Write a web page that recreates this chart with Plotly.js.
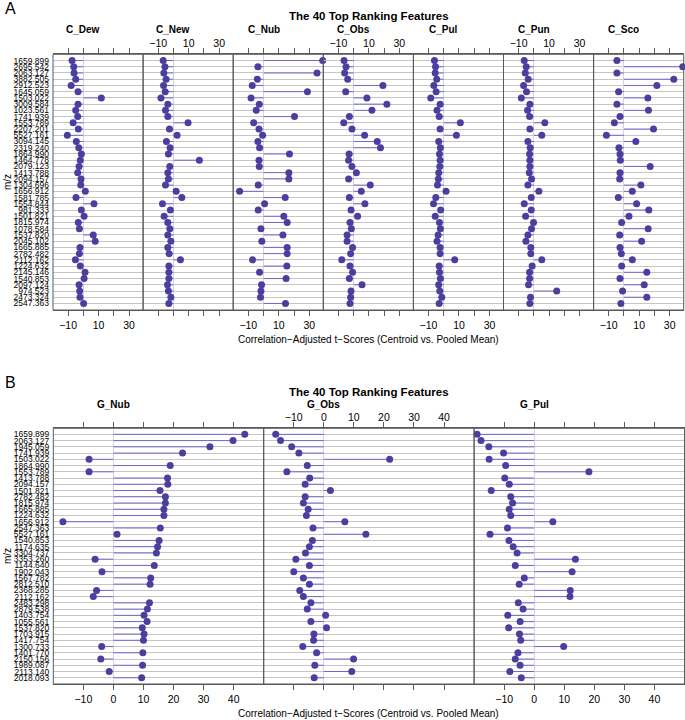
<!DOCTYPE html>
<html><head><meta charset="utf-8">
<script src="https://cdn.plot.ly/plotly-3.0.1.min.js"></script>
<style>html,body{margin:0;padding:0;background:#fff}#chart{width:685px;height:720px}</style>
</head><body><div id="chart"></div>
<script>
// ---------- Panel A data ----------
const mzA = ['1659.899','2695.542','2063.127','3882.505','2912.523','1645.059','1503.022','3009.584','1023.561','1741.939',
  '1553.789','2207.201','5527.161','3094.145','2319.240','1864.990','1464.778','2079.123','1413.788','2094.157',
  '1304.696','1656.912','1581.785','1554.844','981.333','1501.821','1815.974','1078.584','1537.820','2045.102',
  '1665.885','2782.482','2112.162','1224.632','2145.146','1540.853','2097.124','974.523','2473.324','2547.363'];
const panelsA = ['C_Dew','C_New','C_Nub','C_Obs','C_Pul','C_Pun','C_Sco'];
const C_Dew = [-7.4,-6.3,-6.1,-5,-8,-3.5,11.8,-3.5,-5,-3.7,-6.7,-3.3,-10.5,-4.6,-3,-1.3,-2,-2.8,-3.7,-1.5,-1.7,1.3,-4.8,7,-1.3,0.5,-3.3,-2.6,6.5,7.8,-2.2,-2.6,-5.2,-2,1.1,0.5,-2.8,-2.4,-2.2,0.2];
const C_New = [-6.7,-5.6,-6.3,-4.8,-6.5,-5.4,-8.2,-3.7,-5.2,-3.7,9.6,-2.6,2.4,-4.6,-2.2,-3.3,17,-2.4,-3.7,-3.3,-5.2,1.8,5.5,-7.2,-2,-6.1,-3.7,-2.4,-3.7,-1.7,-3.7,-2.8,4.6,-3,-3,-3,-3.9,-3.3,-1.7,-3];
const C_Nub = [38.8,-3.7,35.1,-4.1,-7.4,28.8,-8.2,-2.8,-4.8,20.3,-6.5,-3,-0.6,-3.7,-2.6,17,-3,-2.8,16.6,16.6,-3.5,-15.7,14.2,0.7,-3.5,13.3,15.5,-1.7,12.7,-1.1,15.5,15.5,-7.2,15.3,-2.6,14.8,-1.3,-1.7,-2,14.4];
const C_Obs = [-6.3,-5,-5.9,-3.9,19.2,-5.2,8.7,21.8,12,-2.8,-6.5,-1.1,7.2,15.5,17.6,-3,-3.3,-1.1,1.8,-3.3,10.9,5,-2.8,7.4,-1.7,2.6,-2.4,-1.5,-4.3,-4.3,-0.7,-2,-7.8,-2.4,-0.7,-2.8,5.5,-1.7,-2,-2.4];
const C_Pul = [-6.1,-5.4,-5.6,-4.6,-6.5,-5,-8.5,-2.4,-4.4,-3,10.9,-2.4,8.3,-3.3,-2.2,-2.8,-2.4,-2.6,-3.3,-3.5,-4.1,1.5,-5.2,-6.7,-2,-5.6,-2.8,-2.2,-3.7,-4.4,-2.4,-2.4,7.2,-3,-2.8,-2.2,-3.3,-2.6,-1.3,-3];
const C_Pun = [-6.3,-5,-5.6,-3.7,-6.7,-4.8,-8.2,-2.6,-4.1,-2.8,7.2,-2.6,5.2,-3.9,-2.4,-2.8,-2.6,-2.6,-3,-1.5,-3.9,3.3,-1.7,-6.3,-1.7,-5.4,-0.2,-1.5,-3.9,-5.2,-2,-2,5.2,-1.1,-2.8,-2.8,-3.5,15,-2.2,-2.6];
const C_Sco = [-4.6,38.6,-4.6,32.7,21.6,-3.5,15.7,-4.6,16.1,-2.6,-6.3,19.4,-11.5,7.8,-3.3,-2.6,-2.4,17.2,-2.6,-2.8,11.1,5.5,-3.7,8.3,16.3,3.3,-1.5,15.9,-2.8,11.6,-2.6,-1.7,5.5,-1.5,15,-2.6,13.3,-0.9,15,-2];
const valuesA = [C_Dew,C_New,C_Nub,C_Obs,C_Pul,C_Pun,C_Sco];
const tickValsA = [-10,0,10,20,30];
const tickTextA = ['\u221210','','10','','30'];

// ---------- Panel B data ----------
const mzB = ['1659.899','2063.127','1945.059','1741.939','1503.022','1864.990','1553.789','1413.788','2094.157','1501.821',
  '2782.482','1815.974','1665.885','1224.632','1656.912','2547.363','5527.161','1540.853','1174.635','3304.737',
  '3353.260','1144.640','1902.043','1567.782','2812.510','2368.285','2112.162','2483.298','2879.538','1403.754',
  '1055.561','1537.820','1703.915','1417.754','1300.733','1401.770','2150.156','1989.087','2113.140','2018.093'];
const panelsB = ['G_Nub','G_Obs','G_Pul'];
const G_Nub = [43.7,39.8,32.1,23,-8.1,18.9,-8.1,18,18.1,15.5,17.3,17.3,16.8,16.8,-16.8,15.6,1.2,15.2,14.7,14.3,-6.1,13.6,-3.8,12.4,12.2,-5.6,-6.7,12,11.3,10.2,11.2,9.6,10.2,10,-3.9,9.8,-4.2,9.7,-1.4,9.4];
const G_Obs = [-16,-14.4,-10.7,-8.3,21.9,-5.5,-12.3,-4.7,-6.2,2.2,-6.2,-6.8,-5.2,-5.8,7,-3.6,14,-3.8,-4.8,-6.1,-9.3,-4.8,-10,-6.8,-4.8,-8,-6.8,-4.3,-5.5,0.6,-4.3,0.9,-3.3,-3.4,-7,-2.4,9.9,-3,9.3,-3.2];
const G_Pul = [-19,-17.7,-15.1,-10.2,-15,-9.5,18.2,-9.8,-8.3,-14.3,-7.8,-7.2,-8.3,-7.8,6.2,-8.9,-14.7,-8.4,-7,-5.7,13.7,-6.3,12.6,-3.3,-5,12,11.9,-5.3,-3.7,-8.8,-4.7,-8.5,-4.9,-4.5,9.8,-5.4,-6.3,-4.7,-8.1,-4.3];
const valuesB = [G_Nub,G_Obs,G_Pul];
const tickValsB = [-10,0,10,20,30,40];
const tickTextB = ['\u221210','0','10','20','30','40'];

const mainTitle = 'The 40 Top Ranking Features';
const xTitle = 'Correlation\u2212Adjusted t\u2212Scores (Centroid vs. Pooled Mean)';

// ---------- layout helpers ----------
const W = 685, H = 720;
const px = p => p / W;
const py = p => 1 - p / H;
const FONT = 'Liberation Sans, Arial, Helvetica, sans-serif';
const PT = '#4a3f9e', SEG = '#7069c6', FRAME = '#595959';

const data = [], shapes = [], annotations = [];
const layout = {
  width: W, height: H, margin: {l:0, r:0, t:0, b:0},
  paper_bgcolor: '#fff', plot_bgcolor: '#fff', showlegend: false,
  font: {family: FONT, color: '#000'}, hovermode: false
};

function axName(n){ return n === 1 ? 'x' : 'x' + n; }
function axKey(n){ return n === 1 ? 'xaxis' : 'xaxis' + n; }

function addPanel(n, yName, cats, vals){
  const xa = axName(n);
  const sx = [], sy = [];
  cats.forEach((c, i) => { sx.push(0, vals[i], null); sy.push(c, c, null); });
  data.push({type:'scatter', mode:'lines', x:sx, y:sy, xaxis:xa, yaxis:yName,
    line:{color:SEG, width:1}, connectgaps:false});
  data.push({type:'scatter', mode:'markers', x:vals, y:cats, xaxis:xa, yaxis:yName,
    marker:{color:PT, size:7}, cliponaxis:false});
  shapes.push({type:'rect', xref: xa + ' domain', yref: yName + ' domain', x0:0, x1:1, y0:0, y1:1,
    line:{color:FRAME, width:1}, layer:'above'});
}

function xAxisCfg(dom, anchor, range, tv, tt, side){
  const cfg = {domain: dom, anchor: anchor, range: range, autorange:false,
    tickmode:'array', tickvals: tv, ticktext: tt, side: side,
    ticks:'outside', ticklen:5, tickwidth:1, tickcolor:FRAME,
    showline:true, linecolor:FRAME, linewidth:1, mirror:'ticks',
    showgrid:false, zeroline:true, zerolinecolor:'#d3d1ef', zerolinewidth:1,
    tickfont:{size:10.5, family:FONT, color:'#000'}, fixedrange:true};
  if (side === 'top') cfg.ticklabelstandoff = -3;
  return cfg;
}

function yAxisCfg(dom, anchor, cats, range){
  return {domain: dom, anchor: anchor, type:'category', categoryorder:'array',
    categoryarray: cats, range: range, autorange:false,
    tickmode:'linear', tick0:0, dtick:1,
    showgrid:true, gridcolor:'#c6c6c6', gridwidth:1, ticks:'', showline:false, zeroline:false,
    tickfont:{size:8.5, family:FONT, color:'#000'}, ticklabelstandoff:3, fixedrange:true};
}

// ---------- Panel A ----------
const aLeft = 53, aW = 90.1, aTop = 54.3, aBot = 310;
panelsA.forEach((name, k) => {
  const n = k + 1;
  addPanel(n, 'y', mzA, valuesA[k]);
  layout[axKey(n)] = xAxisCfg([px(aLeft + aW*k), px(aLeft + aW*(k+1))], 'y', [-19.9, 39.2],
    tickValsA, tickTextA, k % 2 === 1 ? 'top' : 'bottom');
  annotations.push({text:'<b>' + name + '</b>', xref: axName(n), yref:'paper', x:0, y:py(30),
    showarrow:false, xanchor:'center', yanchor:'middle', font:{size:10, family:FONT, color:'#000'}});
});
layout.yaxis = yAxisCfg([py(aBot), py(aTop)], 'x', mzA, [40.05, -1.0]);

// ---------- Panel B ----------
const bLeft = 53.3, bW = 210.4, bTop = 428.3, bBot = 684;
panelsB.forEach((name, k) => {
  const n = 8 + k;
  addPanel(n, 'y2', mzB, valuesB[k]);
  layout[axKey(n)] = xAxisCfg([px(bLeft + bW*k), Math.min(1, px(bLeft + bW*(k+1)))], 'y2', [-20, 50],
    tickValsB, tickTextB, k === 1 ? 'top' : 'bottom');
  annotations.push({text:'<b>' + name + '</b>', xref: axName(n), yref:'paper', x:0, y:py(404),
    showarrow:false, xanchor:'center', yanchor:'middle', font:{size:10, family:FONT, color:'#000'}});
});
layout.yaxis2 = yAxisCfg([py(bBot), py(bTop)], 'x8', mzB, [40.0, -0.97]);

// ---------- titles / labels ----------
function ann(text, x, y, size, extra){
  annotations.push(Object.assign({text:text, xref:'paper', yref:'paper', x:px(x), y:py(y),
    showarrow:false, xanchor:'center', yanchor:'middle', font:{size:size, family:FONT, color:'#000'}}, extra||{}));
}
ann('A', 3, 9, 16, {xanchor:'left'});
ann('<b>' + mainTitle + '</b>', 368.5, 16, 11.5);
ann(xTitle, 368.5, 339, 10);
ann('m/z', 7, 182, 10, {textangle:-90});
ann('B', 3, 382, 16, {xanchor:'left'});
ann('<b>' + mainTitle + '</b>', 368.5, 392, 11.5);
ann(xTitle, 368.5, 713, 10);
ann('m/z', 7, 556, 10, {textangle:-90});

layout.shapes = shapes;
layout.annotations = annotations;

Plotly.newPlot('chart', data, layout, {staticPlot:true, displayModeBar:false});
</script>
</body></html>
